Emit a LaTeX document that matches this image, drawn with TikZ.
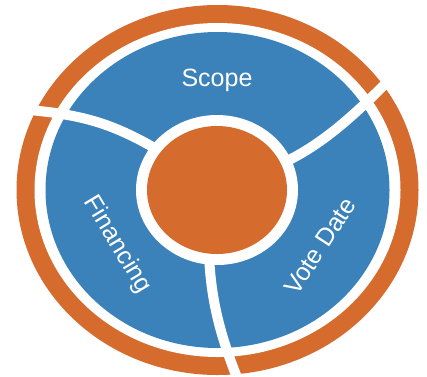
\documentclass[tikz,border=0pt]{standalone}
\usepackage{fontspec}
\setmainfont{Liberation Sans}
\definecolor{ringc}{RGB}{213,108,46}
\definecolor{segc}{RGB}{59,130,186}
\begin{document}
\begin{tikzpicture}[x=1pt,y=-1pt,
  divider/.style={white,line width=10pt},
  seglabel/.style={text=white,font=\fontsize{25}{30}\selectfont,inner sep=0pt}]
\useasboundingbox (0,0) rectangle (427,376);
\coordinate (c) at (217.5,190);
% outer orange ring
\fill[ringc] (c) ellipse [x radius=201pt, y radius=185pt];
\fill[white] (c) ellipse [x radius=183pt, y radius=167pt];
% blue disk
\fill[segc] (c) ellipse [x radius=172pt, y radius=158pt];
% dividers
\coordinate (a1) at (158,150);
\coordinate (a2) at (18,109);
\coordinate (b1) at (285,162);
\coordinate (b2) at (392,77);
\coordinate (d1) at (209,255);
\coordinate (d2) at (238,380);
\draw[divider] (a1) .. controls (110,122) and (80,114) .. (a2);
\draw[divider] (b1) .. controls (320,145) and (350,120) .. (b2);
\draw[divider] (d1) .. controls (211,300) and (220,335) .. (d2);
% hub
\fill[white] (217,190) ellipse [x radius=81pt, y radius=75pt];
\fill[ringc] (217,190) ellipse [x radius=70pt, y radius=64pt];
% labels
\node[seglabel] (scope) at (217,80) {Scope};
\node[seglabel,rotate=-59] (fin) at (117,245) {Financing};
\node[seglabel,rotate=57] (vote) at (320,246) {Vote Date};
\end{tikzpicture}
\end{document}
